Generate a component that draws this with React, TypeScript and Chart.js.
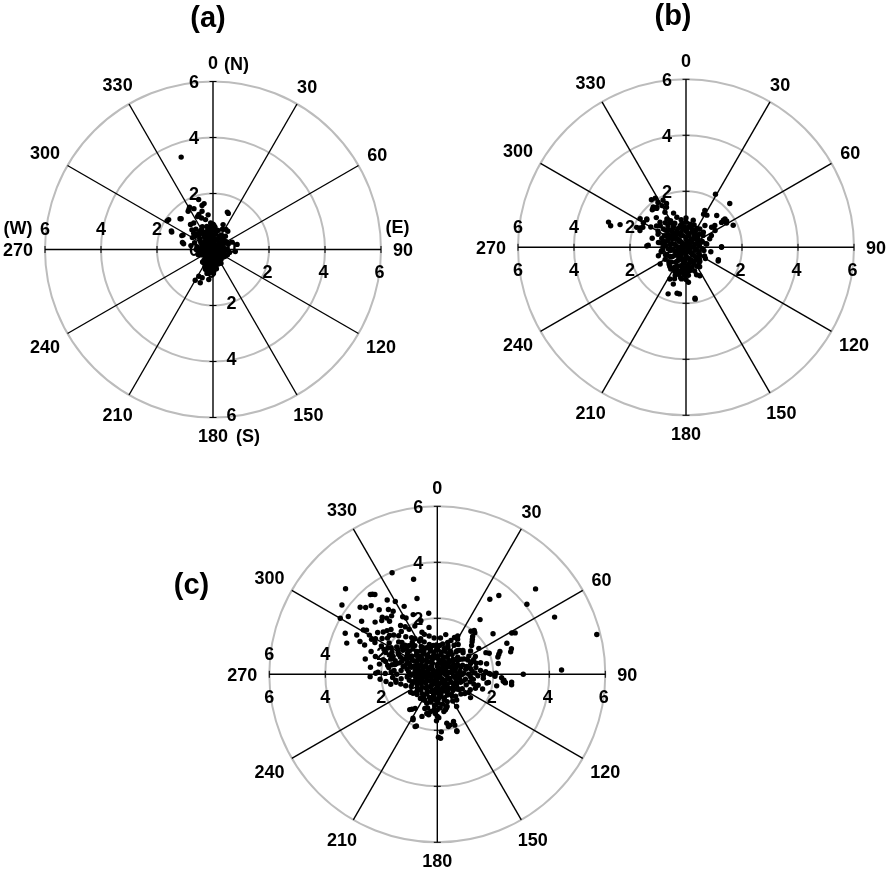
import React, { useEffect, useRef } from "react";
import { Chart, registerables } from "chart.js";

Chart.register(...registerables);

// ---------- data ----------
const ANGLE_TICKS = [0, 30, 60, 90, 120, 150, 180, 210, 240, 270, 300, 330];
const RADIUS_TICKS = [0, 2, 4, 6];
const GRID_RINGS = [2, 4, 6];
const R_MAX = 6;
const PANEL_TITLES = ["(a)", "(b)", "(c)"];
const COMPASS_LABELS = ["(N)", "(E)", "(S)", "(W)"];

// [direction (deg, clockwise from N), speed]
const DIR_SPEED_A: [number, number][] = [
  [341, 3.49],
  [21, 1.43], [23, 1.4], [331, 1.73], [335, 1.61], [346, 1.62], [344, 1.42], [338, 1.35], [327, 1.63], [314, 1.58],
  [304, 1.91], [302, 1.93], [294, 1.63], [293, 1.6], [294, 1.22], [296, 1.19], [281, 1.07], [283, 1.12], [318, 1.2], [324, 1.17],
  [313, 1.03], [307, 0.79], [346, 1.1], [348, 0.73], [22, 0.96], [39, 0.84], [43, 0.65], [69, 0.73], [78, 0.88], [119, 0.5],
  [201, 0.76], [187, 0.84], [208, 1.08], [201, 1.08], [188, 1.08], [210, 0.42], [214, 0.58], [344, 1.86], [349, 1.67], [329, 1.67],
  [313, 1.61], [210, 1.27], [201, 1.27], [194, 0.88], [179, 0.86], [335, 1.3], [340, 1.2], [352, 1.25], [355, 0.95], [320, 0.95],
  [310, 0.9], [300, 0.85], [290, 0.7], [280, 0.8], [270, 0.6], [100, 0.6], [95, 0.8], [60, 0.55], [30, 0.6], [15, 0.7],
  [5, 0.8], [140, 0.45], [160, 0.55], [170, 0.7], [180, 0.65], [195, 0.7], [220, 0.5], [240, 0.4], [255, 0.5], [265, 0.35],
  [25, 0.8], [33, 0.85],
  [0, 0.1], [125, 0.12], [245, 0.1],
  [30, 0.2], [95, 0.22], [155, 0.2], [210, 0.18], [275, 0.2], [335, 0.22],
  [5, 0.3], [45, 0.32], [85, 0.28], [125, 0.3], [165, 0.3], [200, 0.32], [240, 0.28], [280, 0.3], [320, 0.31],
  [15, 0.4], [48, 0.42], [75, 0.38], [108, 0.4], [138, 0.4], [168, 0.42], [195, 0.4], [225, 0.38], [258, 0.4], [288, 0.42], [315, 0.4], [345, 0.41],
  [0, 0.5], [25, 0.52], [52, 0.5], [88, 0.5], [180, 0.5], [205, 0.52], [300, 0.5], [325, 0.52], [340, 0.5],
  [350, 0.62], [340, 0.65], [330, 0.7], [355, 0.75], [345, 0.85], [0, 0.9], [335, 0.9], [325, 0.8], [318, 0.72], [310, 0.62],
  [185, 0.6], [175, 0.62], [190, 0.7], [200, 0.6],
  [60, 0.15], [180, 0.15], [300, 0.15],
  [0, 0.25], [60, 0.26], [120, 0.25], [180, 0.26], [240, 0.25], [300, 0.25],
  [20, 0.36], [60, 0.35], [100, 0.36], [140, 0.35], [180, 0.36], [220, 0.35], [260, 0.36], [300, 0.35], [340, 0.36],
  [0, 0.45], [30, 0.46], [60, 0.45], [95, 0.44], [125, 0.46], [155, 0.45], [185, 0.44], [215, 0.46], [245, 0.45], [272, 0.46], [300, 0.45], [330, 0.46],
  [10, 0.58], [40, 0.56], [70, 0.58], [110, 0.55], [150, 0.57], [170, 0.58], [195, 0.56], [220, 0.58], [250, 0.56], [280, 0.58], [305, 0.56], [328, 0.58], [348, 0.56],
  [335, 0.68], [345, 0.72], [358, 0.68], [315, 0.8], [330, 0.82], [350, 0.8], [5, 0.7], [185, 0.72], [195, 0.8], [205, 0.68], [178, 0.78],
];

const DIR_SPEED_B: [number, number][] = [
  [288, 2.91], [286, 2.8], [289, 2.49], [324, 2.1], [328, 2.07], [328, 1.89], [319, 1.81], [324, 1.77], [330, 1.72], [329, 1.46],
  [334, 1.59], [302, 1.93], [300, 1.76], [306, 1.73], [292, 1.9], [290, 1.75], [272, 1.4], [273, 1.35], [253, 1.03], [237, 1.1],
  [306, 1.3], [314, 1.29], [309, 1.04], [326, 1.22], [327, 1.06], [330, 0.9], [343, 1.12],
  [29, 2.17], [45, 2.21], [28, 1.34], [27, 1.48], [33, 1.37], [44, 1.58], [54, 1.72], [57, 1.73], [55, 1.55], [53, 1.29],
  [52, 1.16], [65, 1.86], [81, 0.75], [89, 1.27], [90, 1.27], [113, 1.25], [111, 1.24], [159, 1.05], [154, 1.13], [170, 1.88],
  [170, 1.85], [201, 1.78], [191, 1.67], [188, 1.68], [199, 1.39], [207, 1.27], [201, 1.08], [197, 0.93], [188, 1.14], [182, 1.01],
  [176, 1.25], [31, 0.63], [42, 0.57], [37, 0.82], [49, 0.82], [41, 1.03], [10, 0.84],
  [293, 1.78], [295, 1.7], [305, 1.71], [318, 1.8], [321, 1.86], [323, 1.74], [334, 1.87], [336, 1.71], [54, 1.65], [59, 1.69],
  [60, 1.2], [65, 1.0], [70, 0.9], [100, 0.9], [120, 0.8], [135, 0.7], [145, 0.85], [215, 0.95], [225, 0.85], [260, 0.9],
  [280, 1.0], [295, 1.1], [285, 1.25], [300, 1.45], [315, 1.5], [340, 1.3], [350, 1.0], [0, 1.05], [15, 1.0], [20, 0.85],
  [0, 0.1], [120, 0.1], [240, 0.12],
  [20, 0.22], [80, 0.2], [140, 0.22], [200, 0.2], [260, 0.22], [320, 0.2],
  [0, 0.35], [35, 0.34], [70, 0.36], [105, 0.35], [140, 0.34], [175, 0.36], [210, 0.35], [245, 0.34], [280, 0.36], [315, 0.35],
  [10, 0.5], [35, 0.52], [60, 0.5], [85, 0.48], [110, 0.5], [135, 0.52], [160, 0.5], [185, 0.5], [210, 0.52], [235, 0.5],
  [260, 0.5], [285, 0.52], [310, 0.5], [335, 0.5],
  [0, 0.65], [20, 0.66], [45, 0.68], [70, 0.62], [100, 0.65], [130, 0.62], [155, 0.66], [175, 0.7], [195, 0.68], [215, 0.65],
  [240, 0.66], [265, 0.64], [290, 0.68], [310, 0.66], [330, 0.65], [350, 0.68],
  [345, 0.8], [325, 0.82], [305, 0.8], [285, 0.8], [270, 0.82], [250, 0.78], [230, 0.8], [210, 0.82], [190, 0.8], [170, 0.84],
  [150, 0.78], [15, 0.8], [30, 0.78],
  [185, 0.95], [195, 1.0], [205, 0.95], [175, 1.0], [310, 0.95], [320, 1.0], [335, 0.95], [290, 0.92],
  [40, 0.15], [160, 0.15], [280, 0.15], [100, 0.16], [220, 0.16],
  [0, 0.28], [45, 0.28], [90, 0.28], [135, 0.28], [180, 0.28], [225, 0.28], [270, 0.28], [315, 0.28],
  [15, 0.42], [45, 0.43], [75, 0.42], [105, 0.42], [135, 0.43], [165, 0.42], [195, 0.43], [225, 0.42], [255, 0.43], [285, 0.42], [315, 0.42], [345, 0.43],
  [0, 0.57], [22, 0.58], [48, 0.56], [72, 0.57], [95, 0.58], [120, 0.56], [145, 0.57], [168, 0.58], [190, 0.57], [212, 0.56],
  [236, 0.58], [258, 0.57], [280, 0.56], [302, 0.58], [322, 0.57], [342, 0.56],
  [8, 0.73], [30, 0.72], [55, 0.74], [80, 0.72], [115, 0.73], [140, 0.72], [163, 0.74], [183, 0.73], [203, 0.72], [225, 0.74],
  [248, 0.73], [275, 0.72], [298, 0.74], [318, 0.72], [338, 0.73], [355, 0.74],
  [180, 0.88], [200, 0.88], [220, 0.9], [240, 0.86], [262, 0.88], [280, 0.9], [298, 0.88], [315, 0.86], [330, 0.88], [350, 0.86],
  [160, 0.9], [0, 0.9],
  [300, 1.15], [310, 1.2], [320, 1.15], [330, 1.1], [190, 1.1], [180, 1.15], [200, 1.2],
];

const DIR_SPEED_C: [number, number][] = [
  [336, 3.97], [346, 3.5], [313, 4.48], [321, 3.68], [322, 3.62], [320, 3.72], [306, 4.21], [311, 3.65], [313, 3.5], [316, 3.4],
  [323, 2.9], [325, 2.75], [322, 2.65], [316, 2.83], [318, 2.7], [314, 2.76], [303, 3.79], [300, 4.0], [329, 2.4], [331, 2.3],
  [294, 3.6], [289, 3.42], [293, 3.0], [301, 3.08], [302, 2.98], [298, 2.66], [300, 2.55], [297, 2.5], [311, 2.38], [314, 2.3],
  [309, 2.2], [312, 2.1], [306, 2.2], [323, 2.18], [326, 2.05], [320, 2.0], [328, 1.9], [297, 2.24], [295, 2.1], [293, 2.0],
  [282, 2.63], [276, 2.4], [271, 2.2], [272, 2.12], [271, 1.86], [288, 1.58], [292, 1.7], [285, 1.5], [295, 1.45], [282, 1.65],
  [290, 1.35], [309, 1.42], [305, 1.3], [312, 1.55], [316, 1.25], [328, 1.5], [332, 1.35], [325, 1.6],
  [305, 2.6], [300, 2.8], [310, 2.9], [308, 2.45], [303, 2.35], [318, 2.55], [315, 1.95], [320, 1.75], [300, 1.9], [296, 1.8],
  [304, 1.75], [310, 1.8], [299, 1.6], [284, 1.9], [280, 2.1], [278, 1.75], [286, 2.3], [289, 2.5], [292, 2.8], [296, 3.2],
  [305, 3.3], [318, 3.1], [326, 3.2], [330, 3.0], [334, 2.7], [338, 2.3], [335, 1.9], [340, 1.6], [343, 2.0], [350, 1.7],
  [352, 2.2], [345, 2.8], [348, 1.4], [355, 1.3], [338, 1.25], [342, 1.5], [330, 1.15], [318, 1.1], [305, 1.12], [298, 1.2],
  [290, 1.15], [283, 1.25], [276, 1.3], [270, 1.45], [266, 1.6], [273, 1.65], [263, 1.3], [259, 1.5], [265, 2.05], [268, 2.4],
  [262, 1.85], [262, 1.5], [258, 1.7], [255, 1.35], [250, 1.2],
  [49, 4.65], [38, 3.57], [35, 3.27], [52, 4.06], [64, 4.66], [76, 5.87], [38, 2.48], [54, 2.46], [62, 3.15], [61, 3.04],
  [66, 2.72], [73, 2.74], [71, 2.8], [72, 2.31], [74, 2.25], [70, 2.38], [80, 2.21], [88, 4.44], [90, 3.07], [95, 2.39],
  [97, 2.45], [96, 2.67], [92, 2.06], [40, 2.05], [38, 1.95], [42, 2.0], [45, 1.77], [47, 1.7], [43, 1.85], [66, 1.9],
  [68, 2.0], [87, 1.73], [89, 1.85], [105, 1.51], [99, 1.85], [70, 1.33], [72, 1.25], [68, 1.4], [74, 1.45], [43, 1.17],
  [40, 1.1], [47, 1.25], [22, 1.3], [25, 1.45], [18, 1.2], [28, 1.55], [30, 1.2], [90, 1.9], [91, 1.65], [89, 2.1],
  [100, 1.8], [101, 2.16], [96, 2.37], [98, 2.68], [93, 2.3], [108, 1.7], [97, 2.44],
  [60, 1.3], [65, 1.5], [75, 1.6], [80, 1.4], [85, 1.55], [92, 1.45], [98, 1.3], [103, 1.2], [110, 1.45], [55, 1.45],
  [50, 1.6], [58, 1.75], [78, 1.8], [95, 1.65], [85, 1.25], [115, 1.3], [125, 1.45], [5, 1.3], [12, 1.45], [20, 1.1],
  [35, 1.3], [30, 1.45],
  [179, 2.25], [176, 2.06], [161, 2.13], [166, 1.87], [202, 1.99], [208, 1.84], [193, 1.43], [216, 1.54], [213, 1.45], [165, 1.25],
  [163, 1.2], [167, 1.3], [161, 1.78], [181, 1.66], [180, 1.5], [149, 1.34], [180, 1.27], [184, 1.3], [206, 1.02], [210, 1.0],
  [125, 1.2], [130, 1.1], [120, 1.3], [232, 1.1], [228, 1.0], [236, 1.15], [177, 2.29], [203, 2.03], [192, 1.48], [178, 1.55],
  [169, 1.78], [168, 1.91], [161, 1.92], [161, 2.16], [143, 1.15], [165, 1.2], [218, 1.6], [209, 1.79], [200, 1.6], [196, 1.25],
  [0, 0.1], [120, 0.1], [240, 0.1],
  [15, 0.22], [75, 0.2], [135, 0.22], [195, 0.2], [255, 0.22], [315, 0.2],
  [0, 0.35], [32, 0.36], [65, 0.34], [98, 0.35], [130, 0.36], [162, 0.34], [195, 0.35], [228, 0.36], [260, 0.34], [292, 0.35], [325, 0.36],
  [8, 0.5], [33, 0.5], [58, 0.52], [83, 0.5], [108, 0.48], [133, 0.5], [158, 0.52], [183, 0.5], [208, 0.5], [233, 0.52],
  [258, 0.5], [283, 0.5], [308, 0.52], [333, 0.5],
  [0, 0.65], [20, 0.66], [40, 0.64], [60, 0.66], [80, 0.65], [100, 0.64], [120, 0.66], [140, 0.65], [160, 0.64], [180, 0.66],
  [200, 0.65], [220, 0.64], [240, 0.66], [260, 0.65], [280, 0.64], [300, 0.66], [320, 0.65], [340, 0.64],
  [10, 0.8], [28, 0.82], [46, 0.78], [64, 0.8], [82, 0.82], [100, 0.8], [118, 0.78], [136, 0.8], [154, 0.82], [172, 0.8],
  [190, 0.78], [208, 0.8], [226, 0.82], [244, 0.8], [262, 0.78], [280, 0.8], [298, 0.82], [316, 0.8], [334, 0.78], [352, 0.8],
  [0, 0.95], [15, 0.96], [30, 0.94], [50, 0.95], [70, 0.96], [88, 0.95], [105, 0.94], [125, 0.96], [145, 0.95], [165, 0.94],
  [180, 0.96], [195, 0.95], [212, 0.94], [230, 0.96], [250, 0.95], [268, 0.94], [285, 0.96], [300, 0.95], [315, 0.94], [330, 0.96], [345, 0.95],
  [280, 1.1], [292, 1.08], [305, 1.12], [318, 1.1], [332, 1.08], [345, 1.1], [358, 1.05], [10, 1.1], [60, 1.1], [75, 1.08],
  [90, 1.12], [110, 1.1], [150, 1.1], [170, 1.08], [185, 1.12], [200, 1.1], [215, 1.05], [265, 1.08],
  [60, 0.15], [180, 0.15], [300, 0.15],
  [0, 0.28], [45, 0.28], [90, 0.28], [135, 0.28], [180, 0.28], [225, 0.28], [270, 0.28], [315, 0.28],
  [16, 0.43], [48, 0.42], [80, 0.43], [112, 0.42], [144, 0.43], [176, 0.42], [208, 0.43], [240, 0.42], [272, 0.43], [304, 0.42], [336, 0.43],
  [0, 0.58], [20, 0.57], [45, 0.58], [70, 0.57], [95, 0.58], [120, 0.57], [145, 0.58], [170, 0.57], [195, 0.58], [220, 0.57],
  [245, 0.58], [270, 0.57], [295, 0.58], [320, 0.57], [345, 0.58],
  [10, 0.73], [30, 0.72], [50, 0.73], [70, 0.72], [90, 0.73], [110, 0.72], [130, 0.73], [150, 0.72], [170, 0.73], [190, 0.72],
  [210, 0.73], [230, 0.72], [250, 0.73], [270, 0.72], [290, 0.73], [310, 0.72], [330, 0.73], [350, 0.72],
  [0, 0.88], [19, 0.87], [37, 0.88], [55, 0.87], [73, 0.88], [91, 0.87], [109, 0.88], [127, 0.87], [145, 0.88], [163, 0.87],
  [181, 0.88], [199, 0.87], [217, 0.88], [235, 0.87], [253, 0.88], [271, 0.87], [289, 0.88], [307, 0.87], [325, 0.88], [343, 0.87],
  [5, 1.03], [22, 1.02], [40, 1.04], [58, 1.02], [80, 1.03], [100, 1.02], [120, 1.03], [140, 1.02], [160, 1.04], [178, 1.03],
  [193, 1.02], [208, 1.04], [225, 1.02], [245, 1.03], [258, 1.02], [275, 1.03], [288, 1.02], [300, 1.04], [312, 1.02], [325, 1.03],
  [338, 1.02], [352, 1.04],
  [285, 1.2], [295, 1.3], [300, 1.25], [310, 1.3], [322, 1.3], [335, 1.4], [287, 1.4], [297, 1.55], [305, 1.5], [315, 1.45],
  [322, 1.45], [283, 1.55], [292, 1.85], [302, 1.65], [308, 1.6], [280, 1.8], [275, 1.55], [312, 1.7], [318, 1.4], [288, 1.75],
  [298, 2.0], [303, 2.05], [285, 2.0],
  [175, 1.2], [185, 1.25], [190, 1.35], [170, 1.35], [200, 1.3], [195, 1.45], [183, 1.4],
  [80, 1.2], [95, 1.2], [105, 1.35], [88, 1.35], [65, 1.2], [50, 1.2],
];

// ---------- layout / style ----------
const R_PX = 168;
const FONT = '"Liberation Sans", Arial, Helvetica, sans-serif';
const DEG = Math.PI / 180;

type Panel = {
  title: string;
  data: [number, number][];
  left: number; top: number; width: number; height: number;
  cx: number; cy: number;
  titleX: number; titleY: number;
  axes: string[];
  compass: boolean;
};

const PANELS: Panel[] = [
  { title: PANEL_TITLES[0], data: DIR_SPEED_A, left: 0, top: 0, width: 440, height: 470, cx: 213, cy: 249.5,
    titleX: 208, titleY: 19, axes: ["up", "leftAbove", "rightBelow", "down"], compass: true },
  { title: PANEL_TITLES[1], data: DIR_SPEED_B, left: 450, top: 0, width: 437, height: 470, cx: 236, cy: 247.3,
    titleX: 223, titleY: 17, axes: ["up", "leftAbove", "leftBelow", "rightBelow"], compass: false },
  { title: PANEL_TITLES[2], data: DIR_SPEED_C, left: 150, top: 470, width: 500, height: 402, cx: 287.3, cy: 204.3,
    titleX: 41.5, titleY: 116, axes: ["up", "leftAbove", "leftBelow", "rightBelow"], compass: false },
];

function makePolarPlugin(panel: Panel) {
  return {
    id: "polarGrid",
    beforeDatasetsDraw(chart: any) {
      const { ctx } = chart;
      const xs = chart.scales.x;
      const ys = chart.scales.y;
      const P = (dx: number, dy: number) => [xs.getPixelForValue(dx), ys.getPixelForValue(dy)];
      const [cx, cy] = P(0, 0);
      const ux = xs.getPixelForValue(1) - cx;
      const uy = cy - ys.getPixelForValue(1);
      ctx.save();
      // rings
      ctx.strokeStyle = "#bcbcbc";
      ctx.lineWidth = 2;
      for (const r of GRID_RINGS) {
        ctx.beginPath();
        ctx.ellipse(cx, cy, r * ux, r * uy, 0, 0, Math.PI * 2);
        ctx.stroke();
      }
      // spokes
      ctx.strokeStyle = "#000";
      ctx.lineWidth = 1.4;
      for (const a of ANGLE_TICKS) {
        const [ex, ey] = P(R_MAX * Math.sin(a * DEG), R_MAX * Math.cos(a * DEG));
        ctx.beginPath();
        ctx.moveTo(cx, cy);
        ctx.lineTo(ex, ey);
        ctx.stroke();
      }
      // small ticks on main axes
      ctx.lineWidth = 1;
      for (const a of [0, 90, 180, 270]) {
        for (const r of GRID_RINGS) {
          const s = Math.sin(a * DEG), c = Math.cos(a * DEG);
          const [tx, ty] = P(r * s, r * c);
          ctx.beginPath();
          ctx.moveTo(tx - c * 3.5, ty - s * 3.5);
          ctx.lineTo(tx + c * 3.5, ty + s * 3.5);
          ctx.stroke();
        }
      }
      // radial labels
      ctx.fillStyle = "#000";
      ctx.font = `bold 18px ${FONT}`;
      ctx.textAlign = "center";
      ctx.textBaseline = "middle";
      for (const axis of panel.axes) {
        for (const v of RADIUS_TICKS) {
          const t = String(v);
          if (axis === "up") ctx.fillText(t, cx - 19, cy - v * uy + 1.5);
          else if (axis === "leftAbove") ctx.fillText(t, cx - v * ux, cy - 19);
          else if (axis === "leftBelow") ctx.fillText(t, cx - v * ux, cy + 23.5);
          else if (axis === "rightBelow") ctx.fillText(t, cx + v * ux - 1.5, cy + 24);
          else if (axis === "down") ctx.fillText(t, cx + 18.5, cy + v * uy - 1.5);
        }
      }
      // angle labels
      for (const a of ANGLE_TICKS) {
        const t = String(a);
        const w = ctx.measureText(t).width;
        const s = Math.sin(a * DEG), c = Math.cos(a * DEG);
        const d = R_MAX * ux + 18.5 + (w / 2 - 6.5) * Math.abs(s);
        ctx.fillText(t, cx + d * s, cy - d * c + 1.5);
      }
      // compass annotations
      if (panel.compass) {
        ctx.textAlign = "left";
        ctx.fillText(COMPASS_LABELS[0], cx + 11, cy - 184.5);
        ctx.textAlign = "center";
        ctx.fillText(COMPASS_LABELS[1], cx + 184.5, cy - 21.5);
        ctx.fillText(COMPASS_LABELS[2], cx + 35, cy + 188);
        ctx.fillText(COMPASS_LABELS[3], cx - 195, cy - 20.5);
      }
      // title
      ctx.font = `bold 29px ${FONT}`;
      ctx.textAlign = "center";
      ctx.fillText(panel.title, panel.titleX, panel.titleY);
      ctx.restore();
    },
  };
}

function PolarPanel({ panel }: { panel: Panel }) {
  const ref = useRef<HTMLCanvasElement>(null);
  useEffect(() => {
    const canvas = ref.current;
    if (!canvas) return;
    const chart = new Chart(canvas, {
      type: "scatter",
      data: {
        datasets: [
          {
            data: panel.data.map(([d, s]) => ({ x: s * Math.sin(d * DEG), y: s * Math.cos(d * DEG) })),
            pointRadius: 2.7,
            pointHoverRadius: 2.7,
            pointBackgroundColor: "#000",
            pointBorderColor: "#000",
            pointBorderWidth: 0,
            showLine: false,
            clip: false,
          } as any,
        ],
      },
      options: {
        responsive: false,
        animation: false,
        events: [],
        layout: {
          padding: {
            left: panel.cx - R_PX,
            top: panel.cy - R_PX,
            right: panel.width - panel.cx - R_PX,
            bottom: panel.height - panel.cy - R_PX,
          },
        },
        scales: {
          x: { type: "linear", min: -R_MAX, max: R_MAX, display: false },
          y: { type: "linear", min: -R_MAX, max: R_MAX, display: false },
        },
        plugins: {
          legend: { display: false },
          tooltip: { enabled: false },
          title: { display: false },
        },
      },
      plugins: [makePolarPlugin(panel)],
    });
    return () => chart.destroy();
  }, [panel]);
  return (
    <canvas
      ref={ref}
      width={panel.width}
      height={panel.height}
      style={{ position: "absolute", left: panel.left, top: panel.top, width: panel.width, height: panel.height }}
    />
  );
}

export default function App() {
  return (
    <div style={{ position: "absolute", left: 0, top: 0, width: 887, height: 872, background: "#fff", overflow: "hidden" }}>
      {PANELS.map((p) => (
        <PolarPanel key={p.title} panel={p} />
      ))}
    </div>
  );
}
